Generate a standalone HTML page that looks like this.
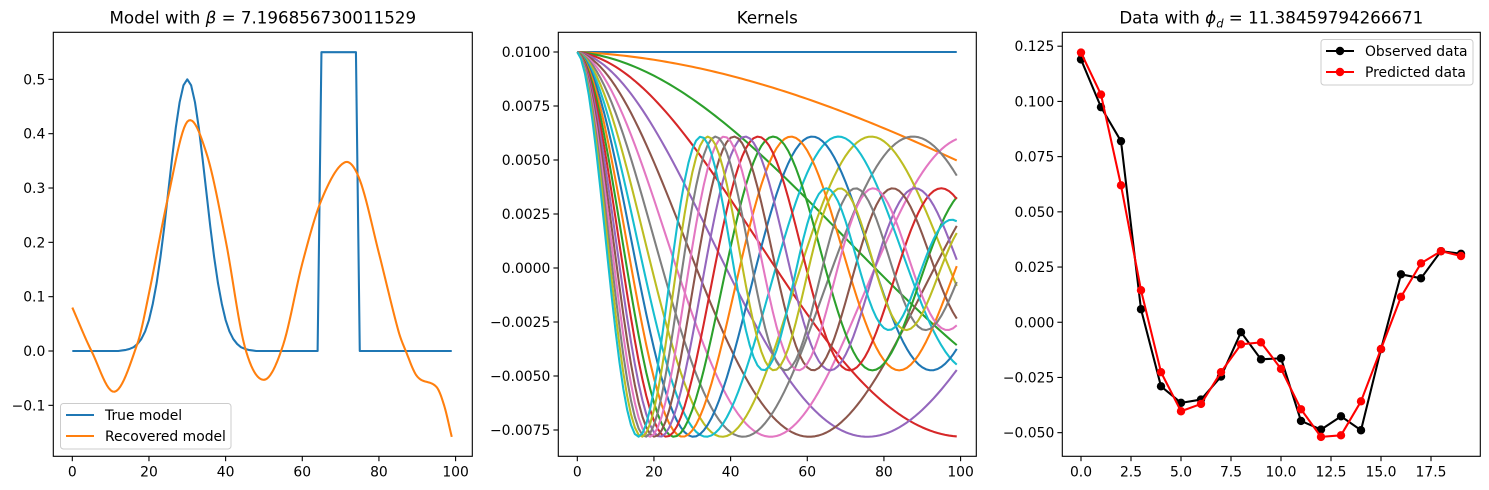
<!DOCTYPE html>
<html><head><meta charset="utf-8"><style>
body{margin:0;background:#fff;}
svg{display:block;font-family:"DejaVu Sans","Liberation Sans",sans-serif;}
</style></head><body>
<svg id="fig" width="1489" height="490" xmlns="http://www.w3.org/2000/svg"></svg>
<script>
// ---- Panel 1 data ----
const modelX = [0,5,11,17,20,25,30,35,40,45,50,55,60,65,71,75,80,85,87,90,95,97,99];
const recoveredModel = [0.08,0,-0.075,0.014,0.106,0.284,0.422,0.364,0.204,0.008,-0.053,0.011,0.161,0.278,0.347,0.315,0.18,0.039,0,-0.047,-0.066,-0.10,-0.158];
const trueModel = [0,0,0,0,0,0,0,0,0,0,0,0,0,0.001,0.002,0.004,0.007,0.013,0.022,0.036,0.057,0.087,0.125,0.173,0.229,0.291,0.353,0.411,0.458,0.489,0.5,0.489,0.458,0.411,0.353,0.291,0.229,0.173,0.125,0.087,0.057,0.036,0.022,0.013,0.007,0.004,0.002,0.001,0,0,0,0,0,0,0,0,0,0,0,0,0,0,0,0,0,0.55,0.55,0.55,0.55,0.55,0.55,0.55,0.55,0.55,0.55,0,0,0,0,0,0,0,0,0,0,0,0,0,0,0,0,0,0,0,0,0,0,0,0,0];
const p1XTicks = [0,20,40,60,80,100];
const p1YTicks = [-0.1,0,0.1,0.2,0.3,0.4,0.5];
const p1YLabels = ["\u22120.1","0.0","0.1","0.2","0.3","0.4","0.5"];
// ---- Panel 2 data ----
const kernelFreq = [0,0.322,0.644,0.966,1.288,1.61,1.932,2.254,2.576,2.898,3.22,3.542,3.864,4.186,4.508,4.83,5.152,5.474,5.796,6.118];
const kernelAmp = 0.01;
const kernelDecay = 0.25;
const p2XTicks = [0,20,40,60,80,100];
const p2YTicks = [-0.0075,-0.005,-0.0025,0,0.0025,0.005,0.0075,0.01];
const p2YLabels = ["\u22120.0075","\u22120.0050","\u22120.0025","0.0000","0.0025","0.0050","0.0075","0.0100"];
// ---- Panel 3 data ----
const observed = [0.119,0.0974,0.082,0.0059,-0.029,-0.0365,-0.035,-0.0246,-0.0045,-0.0168,-0.0163,-0.0447,-0.0486,-0.0426,-0.0489,-0.0122,0.0217,0.0199,0.0322,0.031];
const predicted = [0.1221,0.1031,0.062,0.0145,-0.0226,-0.0403,-0.037,-0.0226,-0.01,-0.0091,-0.0211,-0.0394,-0.0519,-0.0512,-0.0358,-0.0121,0.0115,0.0267,0.0322,0.030];
const p3XTicks = [0,2.5,5,7.5,10,12.5,15,17.5];
const p3XLabels = ["0.0","2.5","5.0","7.5","10.0","12.5","15.0","17.5"];
const p3YTicks = [-0.05,-0.025,0,0.025,0.05,0.075,0.1,0.125];
const p3YLabels = ["\u22120.050","\u22120.025","0.000","0.025","0.050","0.075","0.100","0.125"];
const tab = ["#1f77b4","#ff7f0e","#2ca02c","#d62728","#9467bd","#8c564b","#e377c2","#7f7f7f","#bcbd22","#17becf"];

const NS="http://www.w3.org/2000/svg";
const svg=document.getElementById('fig');
function el(tag,attrs,parent){const e=document.createElementNS(NS,tag);for(const k in attrs)e.setAttribute(k,attrs[k]);(parent||svg).appendChild(e);return e;}
function makeAxes(L,R,T,B,x0,x1,y0,y1){
  return {L,R,T,B,sx:v=>L+(v-x0)/(x1-x0)*(R-L),sy:v=>B-(v-y0)/(y1-y0)*(B-T)};
}
function drawFrame(ax,name,title,xt,xl,yt,yl){
  const g=el('g',{});
  
  
  xt.forEach((v,i)=>{const x=ax.sx(v);
    const t=el('line',{x1:x,x2:x,y1:ax.B,y2:ax.B+4.9,stroke:'#000','stroke-width':1.1},g);
    
    const tx=el('text',{x:x,y:ax.B+20,'text-anchor':'middle','font-size':'13.9px',fill:'#000'},g);
    tx.textContent=xl[i];});
  yt.forEach((v,i)=>{const y=ax.sy(v);
    const t=el('line',{x1:ax.L-4.9,x2:ax.L,y1:y,y2:y,stroke:'#000','stroke-width':1.1},g);
    
    const tx=el('text',{x:ax.L-8,y:y+5,'text-anchor':'end','font-size':'13.9px',fill:'#000'},g);
    tx.textContent=yl[i];});
  const tt=el('text',{x:(ax.L+ax.R)/2,y:ax.T-9,'text-anchor':'middle','font-size':'16.7px',fill:'#000'},g);
  tt.innerHTML=title;
  const cp=el('clipPath',{id:name+'-clip'});el('rect',{x:ax.L,y:ax.T,width:ax.R-ax.L,height:ax.B-ax.T},cp);
  return g;
}
function border(ax){const r=el('rect',{x:ax.L,y:ax.T,width:ax.R-ax.L,height:ax.B-ax.T,fill:'none',stroke:'#000','stroke-width':1.1});
  }
function path(pts,color,clip,name,w){const d=pts.map((p,i)=>(i?'L':'M')+p[0].toFixed(2)+','+p[1].toFixed(2)).join('');
  const e=el('path',{d,fill:'none',stroke:color,'stroke-width':w||2.08,'stroke-linejoin':'round','clip-path':'url(#'+clip+')'});
  return e;}
function catmull(xs,ys,ax){const out=[];for(let i=0;i<xs.length-1;i++){
  const x0=xs[Math.max(0,i-1)],x1=xs[i],x2=xs[i+1],x3=xs[Math.min(xs.length-1,i+2)];
  const y0=ys[Math.max(0,i-1)],y1=ys[i],y2=ys[i+1],y3=ys[Math.min(ys.length-1,i+2)];
  const m1=(y2-y0)/(x2-x0||1)*(x2-x1),m2=(y3-y1)/(x3-x1||1)*(x2-x1);
  for(let s=0;s<12;s++){const t=s/12,t2=t*t,t3=t2*t;
    const y=(2*t3-3*t2+1)*y1+(t3-2*t2+t)*m1+(-2*t3+3*t2)*y2+(t3-t2)*m2;
    out.push([ax.sx(x1+(x2-x1)*t),ax.sy(y)]);}}
  out.push([ax.sx(xs[xs.length-1]),ax.sy(ys[ys.length-1])]);return out;}

// Panel 1
const a1=makeAxes(53.3,472.3,32.3,456.3,-4.96,104.36,-0.1938,0.5866);
drawFrame(a1,'model-panel','Model with <tspan font-style="italic">β</tspan> = 7.196856730011529',p1XTicks,p1XTicks.map(String),p1YTicks,p1YLabels);
path(trueModel.map((v,i)=>[a1.sx(i),a1.sy(v)]),tab[0],'model-panel-clip','true-model-line');
path(catmull(modelX,recoveredModel,a1),tab[1],'model-panel-clip','recovered-model-line');
border(a1);
const lg1=el('g',{});


el('rect',{x:60.5,y:403.5,width:170.5,height:45.5,rx:3,fill:'#fff','fill-opacity':0.8,stroke:'#ccc'},lg1);
[['True model',tab[0],415],['Recovered model',tab[1],436]].forEach(([t,c,y])=>{
  el('line',{x1:66,x2:94,y1:y,y2:y,stroke:c,'stroke-width':2.08},lg1);
  const tx=el('text',{x:105,y:y+5,'font-size':'13.9px'},lg1);tx.textContent=t;
  });

// Panel 2
const a2=makeAxes(558.3,976.3,32.3,456.3,-4.96,104.1,-0.008718,0.010912);
drawFrame(a2,'kernels-panel','Kernels',p2XTicks,p2XTicks.map(String),p2YTicks,p2YLabels);
kernelFreq.forEach((f,j)=>{const pts=[];for(let i=0;i<100;i++){const u=f*i/100;
  pts.push([a2.sx(i),a2.sy(kernelAmp*Math.exp(-kernelDecay*u)*Math.cos(Math.PI*u))]);}
  path(pts,tab[j%10],'kernels-panel-clip','kernel-'+j);});
border(a2);

// Panel 3
const a3=makeAxes(1062.3,1480.3,32.3,456.3,-0.935,19.965,-0.0607,0.1313);
drawFrame(a3,'data-panel','Data with <tspan font-style="italic">ϕ</tspan><tspan font-style="italic" font-size="11.5px" dy="4">d</tspan><tspan dy="-4"> = 11.38459794266671</tspan>',p3XTicks,p3XLabels,p3YTicks,p3YLabels);
function series(vals,color,name){path(vals.map((v,i)=>[a3.sx(i),a3.sy(v)]),color,'data-panel-clip',name+'-line');
  vals.forEach((v,i)=>{const c=el('circle',{cx:a3.sx(i),cy:a3.sy(v),r:4.2,fill:color});
    });}
series(observed,'#000','observed');
series(predicted,'#ff0000','predicted');
border(a3);
const lg3=el('g',{});


el('rect',{x:1321,y:39.5,width:152,height:45.5,rx:3,fill:'#fff','fill-opacity':0.8,stroke:'#ccc'},lg3);
[['Observed data','#000',51],['Predicted data','#ff0000',72]].forEach(([t,c,y])=>{
  el('line',{x1:1326,x2:1354,y1:y,y2:y,stroke:c,'stroke-width':2.08},lg3);
  el('circle',{cx:1340,cy:y,r:4.2,fill:c},lg3);
  const tx=el('text',{x:1365,y:y+5,'font-size':'13.9px'},lg3);tx.textContent=t;
  });
</script>
</body></html>
